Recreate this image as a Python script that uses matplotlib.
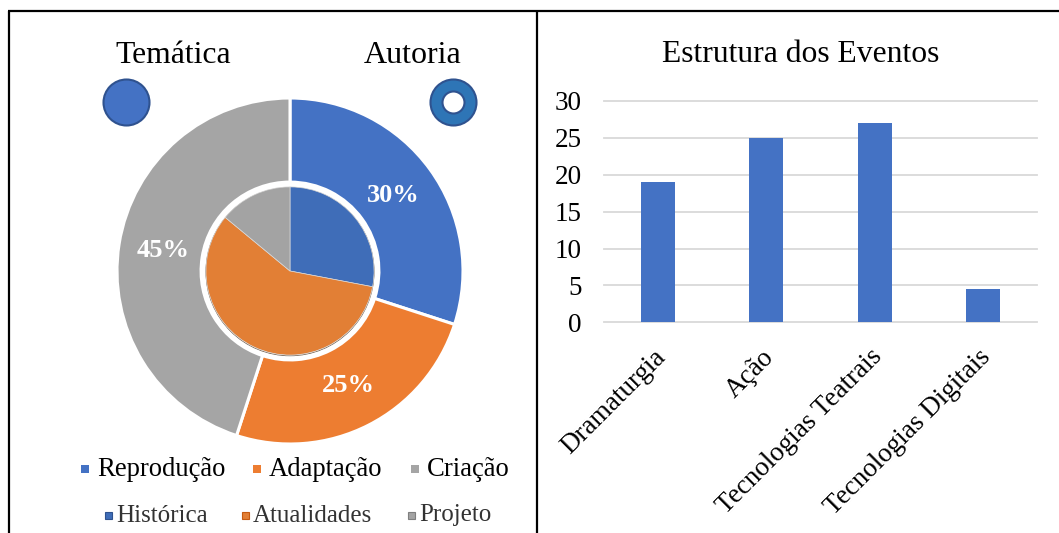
import matplotlib
matplotlib.use("Agg")
import matplotlib.pyplot as plt
from matplotlib.patches import Circle, Rectangle
from matplotlib.transforms import ScaledTranslation

# ---------------- data ----------------
autoria_labels = ["Reprodução", "Adaptação", "Criação"]
autoria_values = [30, 25, 45]
tematica_labels = ["Histórica", "Atualidades", "Projeto"]
tematica_values = [28, 58, 14]
event_categories = ["Dramaturgia", "Ação", "Tecnologias Teatrais", "Tecnologias Digitais"]
event_values = [19, 25, 27, 4.5]
y_ticks = [0, 5, 10, 15, 20, 25, 30]

outer_colors = ["#4472c4", "#ed7d31", "#a5a5a5"]
inner_colors = ["#3f6db8", "#e27f35", "#a3a3a3"]
bar_color = "#4472c4"

SERIF = ["Liberation Serif", "DejaVu Serif"]
plt.rcParams["font.family"] = SERIF

W, H = 1059, 533
fig = plt.figure(figsize=(W / 100, H / 100), dpi=100)

# ---------------- overlay (decorations) ----------------
ov = fig.add_axes([0, 0, 1, 1], zorder=0)
ov.set_xlim(0, W)
ov.set_ylim(H, 0)
ov.axis("off")
ov.plot([8, W], [11, 11], color="black", lw=1.6, solid_capstyle="butt")
ov.plot([8.5, 8.5], [11, H], color="black", lw=1.6, solid_capstyle="butt")
ov.plot([537, 537], [11, H], color="black", lw=1.6, solid_capstyle="butt")

ov.text(173, 63, "Temática", fontsize=22.8, ha="center", va="baseline")
ov.text(413, 63, "Autoria", fontsize=23, ha="center", va="baseline")
ov.text(801, 62, "Estrutura dos Eventos", fontsize=22.8, ha="center", va="baseline")

# icons
ov.add_patch(Circle((126.5, 102.5), 23, facecolor="#4472c4", edgecolor="#2f528f", lw=1.5))
ov.add_patch(Circle((453.5, 102.5), 23, facecolor="#2e75b6", edgecolor="#2f528f", lw=1.5))
ov.add_patch(Circle((453.5, 102.5), 11, facecolor="white", edgecolor="#2f528f", lw=1.5))

# legend row 1 (Autoria)
row1_marker_x = [85, 257, 415]
for lab, col, mx in zip(autoria_labels, outer_colors, row1_marker_x):
    ov.add_patch(Rectangle((mx - 4, 469 - 4), 8, 8, facecolor=col, edgecolor="none"))
    ov.text(mx + 12, 476, lab, fontsize=19.2, ha="left", va="baseline")

# legend row 2 (Temática)
row2_marker_x = [108, 245, 411]
row2_edges = ["#2f528f", "#c55a11", "#7f7f7f"]
for lab, col, ec, mx in zip(tematica_labels, inner_colors, row2_edges, row2_marker_x):
    ov.add_patch(Rectangle((mx - 3.5, 515 - 3.5), 7, 7, facecolor=col, edgecolor=ec, lw=0.8))
    ov.text(mx + 8, 521.5, lab, fontsize=18, ha="left", va="baseline", color="#333333")

# ---------------- pies ----------------
cx, cy, R = 290, 271, 173
axp = fig.add_axes([(cx - R) / W, 1 - (cy + R) / H, 2 * R / W, 2 * R / H], zorder=1)
wedges, texts, autotexts = axp.pie(
    autoria_values, colors=outer_colors, startangle=90, counterclock=False,
    radius=1.0, autopct="%d%%", pctdistance=0.74,
    wedgeprops=dict(width=0.486, edgecolor="white", linewidth=2.2),
    textprops=dict(color="white", fontsize=19, fontweight="bold", family=SERIF),
)
axp.pie(
    tematica_values, colors=inner_colors, startangle=90, counterclock=False,
    radius=0.486, wedgeprops=dict(edgecolor="#d9d9d9", linewidth=0.5),
)
axp.add_patch(Circle((0, -0.004), 0.486, facecolor="none", edgecolor="#6b5a4a", lw=0.6, zorder=0))
axp.set_xlim(-1, 1)
axp.set_ylim(-1, 1)
axp.set_aspect("equal")
axp.axis("off")

# ---------------- bar chart ----------------
left, right = 604, 1037
y0, y30 = 322.3, 101
axb = fig.add_axes([left / W, 1 - y0 / H, (right - left) / W, (y0 - y30) / H], zorder=1)
xs = list(range(len(event_categories)))
axb.bar(xs, event_values, width=0.314, color=bar_color, zorder=3)
axb.set_xlim(-0.5, len(event_categories) - 0.5)
axb.set_ylim(0, 30)
axb.set_yticks(y_ticks)
axb.set_yticklabels([str(t) for t in y_ticks], fontsize=19.5)
axb.yaxis.grid(True, color="#d9d9d9", lw=1.3, zorder=0)
axb.set_axisbelow(True)
for s in axb.spines.values():
    s.set_visible(False)
axb.tick_params(axis="y", length=0, pad=16)
axb.tick_params(axis="x", length=0, pad=16)
axb.set_xticks(xs)
axb.set_xticklabels(event_categories, fontsize=19.5, rotation=45, ha="right",
                    va="top", rotation_mode="anchor")
shift = ScaledTranslation(-5 / 100, 0, fig.dpi_scale_trans)
for lbl in axb.get_xticklabels():
    lbl.set_transform(lbl.get_transform() + shift)
for gl in axb.get_ygridlines():
    gl.set_clip_on(False)

fig.savefig("out.png", dpi=100)
